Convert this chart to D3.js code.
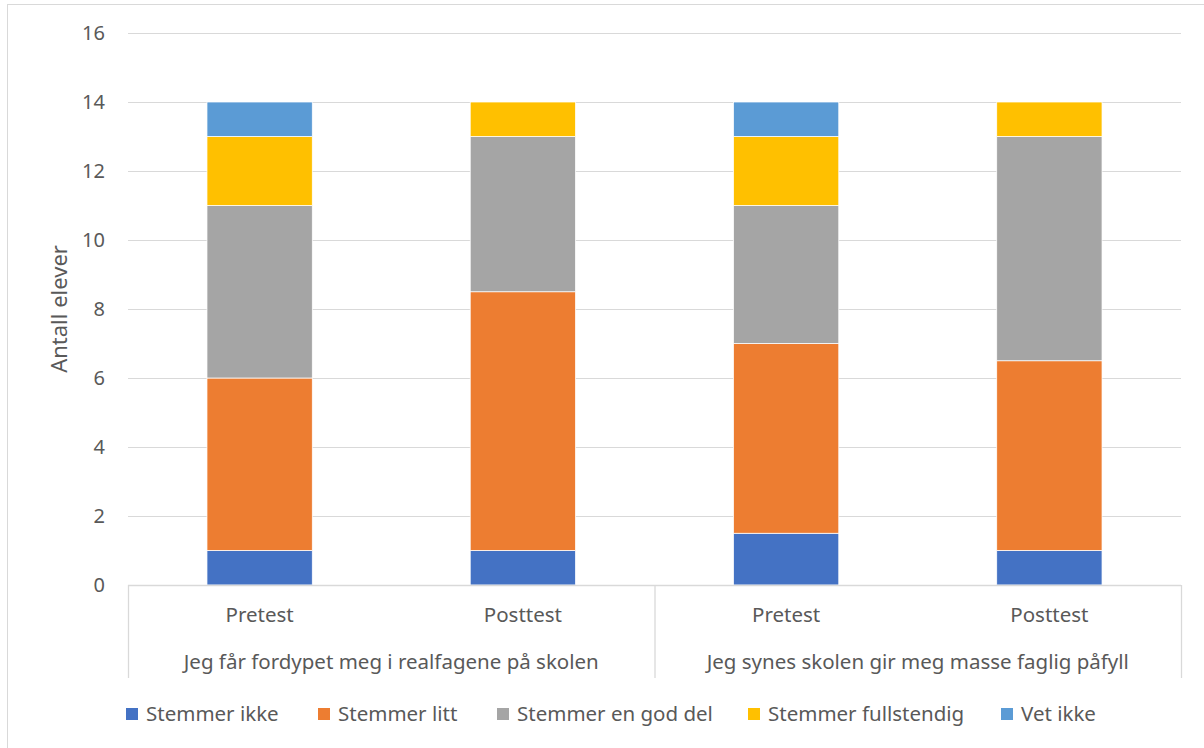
<!DOCTYPE html>
<html>
<head>
<meta charset="utf-8">
<script src="https://cdn.jsdelivr.net/npm/d3@7"></script>
<style>
  body { margin: 0; background: #fff; }
  text { font-family: "Noto Sans", "Open Sans", sans-serif; fill: #595959; }
</style>
</head>
<body>
<div class="main"></div>
<script>
// Data
const groups = ['Jeg får fordypet meg i realfagene på skolen', 'Jeg synes skolen gir meg masse faglig påfyll'];
const tests = ['Pretest', 'Posttest'];
const seriesNames = ['Stemmer ikke', 'Stemmer litt', 'Stemmer en god del', 'Stemmer fullstendig', 'Vet ikke'];
const seriesColors = ['#4472C4', '#ED7D31', '#A5A5A5', '#FFC000', '#5B9BD5'];
// one array per series, order: group1 pre, group1 post, group2 pre, group2 post
const stemmerIkke = [1, 1, 1.5, 1];
const stemmerLitt = [5, 7.5, 5.5, 5.5];
const stemmerGodDel = [5, 4.5, 4, 6.5];
const stemmerFullstendig = [2, 1, 2, 1];
const vetIkke = [1, 0, 1, 0];
const yTicks = [0, 2, 4, 6, 8, 10, 12, 14, 16];

// Variables
const width = 1204, height = 748,
      plotLeft = 128, plotRight = 1181, plotTop = 33, plotBottom = 585;

const cats = [];
groups.forEach((g, gi) => tests.forEach((t, ti) => cats.push({group: g, test: t, key: gi + '-' + ti})));
const allSeries = [stemmerIkke, stemmerLitt, stemmerGodDel, stemmerFullstendig, vetIkke];
const rows = cats.map((c, i) => {
  const r = {key: c.key};
  seriesNames.forEach((s, si) => r[s] = allSeries[si][i]);
  return r;
});

const svg = d3.select('.main').append('svg')
  .attr('width', width).attr('height', height);

// chart border
svg.append('rect')
  .attr('x', 7.5).attr('y', 4.5).attr('width', 1205).attr('height', 760)
  .attr('fill', 'none').attr('stroke', '#d9d9d9').attr('stroke-width', 1);

// Scales
const yScale = d3.scaleLinear().domain([0, 16]).range([plotBottom, plotTop]);
const xScale = d3.scaleBand().domain(cats.map(c => c.key)).range([plotLeft, plotRight])
  .paddingInner(0.6).paddingOuter(0.3);
const xGroup = d3.scaleBand().domain(groups).range([plotLeft, plotRight]);

// Gridlines
svg.append('g').selectAll('line').data(yTicks.filter(t => t > 0)).enter().append('line')
  .attr('x1', plotLeft).attr('x2', plotRight)
  .attr('y1', d => Math.round(yScale(d)) + 0.5).attr('y2', d => Math.round(yScale(d)) + 0.5)
  .attr('stroke', '#d9d9d9').attr('stroke-width', 1);

// Y tick labels
svg.append('g').selectAll('text').data(yTicks).enter().append('text')
  .attr('x', 105).attr('y', d => yScale(d))
  .attr('dy', '0.35em').attr('text-anchor', 'end')
  .style('font-size', '20px').text(d => d);

// Y axis title
svg.append('text')
  .attr('transform', `translate(67, ${(plotTop + plotBottom) / 2}) rotate(-90)`)
  .attr('text-anchor', 'middle').style('font-size', '22px')
  .text('Antall elever');

// Bars
const stack = d3.stack().keys(seriesNames);
const layers = stack(rows);
svg.append('g').selectAll('g').data(layers).enter().append('g')
  .attr('fill', (d, i) => seriesColors[i])
  .selectAll('rect').data(d => d).enter().append('rect')
  .attr('x', d => xScale(d.data.key))
  .attr('width', xScale.bandwidth())
  .attr('y', d => yScale(d[1]))
  .attr('height', d => yScale(d[0]) - yScale(d[1]))
  .attr('stroke', '#fff').attr('stroke-width', 0.75)
  .filter(d => d[1] - d[0] <= 0).remove();

// Category axis (multi-level)
const axisBottom = 678;
const ax = svg.append('g').attr('stroke', '#d9d9d9').attr('stroke-width', 1.3);
ax.append('line').attr('x1', plotLeft).attr('x2', plotRight).attr('y1', plotBottom + 0.5).attr('y2', plotBottom + 0.5);
[plotLeft, xGroup(groups[1]), plotRight].forEach(x => {
  ax.append('line').attr('x1', x + 0.5).attr('x2', x + 0.5).attr('y1', plotBottom).attr('y2', axisBottom);
});

svg.append('g').selectAll('text').data(cats).enter().append('text')
  .attr('x', d => xScale(d.key) + xScale.bandwidth() / 2)
  .attr('y', 615).attr('dy', '0.35em').attr('text-anchor', 'middle')
  .style('font-size', '20.5px').text(d => d.test);

svg.append('g').selectAll('text').data(groups).enter().append('text')
  .attr('x', d => xGroup(d) + xGroup.bandwidth() / 2)
  .attr('y', 662).attr('dy', '0.35em').attr('text-anchor', 'middle')
  .style('font-size', '20.5px').text(d => d);

// Legend
const legendX = [126, 318, 497, 748, 1001];
const legend = svg.append('g').selectAll('g').data(seriesNames).enter().append('g')
  .attr('transform', (d, i) => `translate(${legendX[i]}, 714)`);
legend.append('rect').attr('x', 0).attr('y', -6).attr('width', 12).attr('height', 12)
  .attr('fill', (d, i) => seriesColors[i]);
legend.append('text').attr('x', 20).attr('y', 0).attr('dy', '0.35em')
  .style('font-size', '20.5px').text(d => d);
</script>
</body>
</html>
